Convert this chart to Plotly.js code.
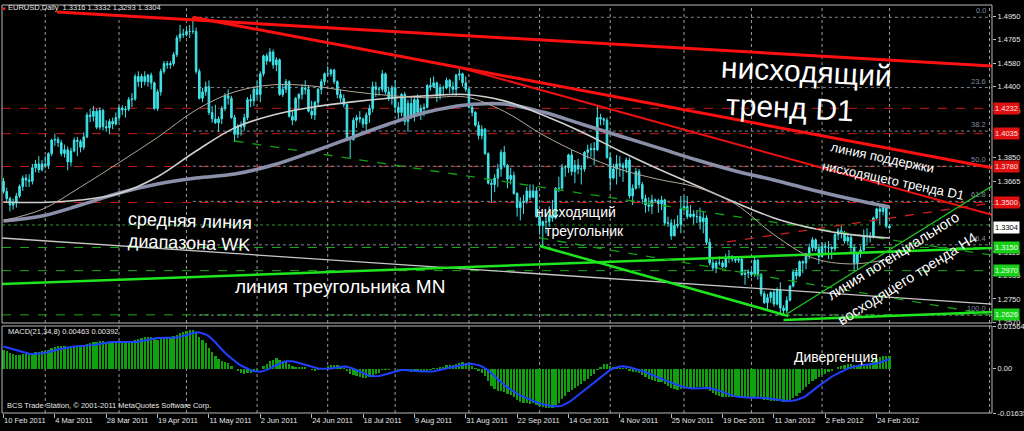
<!DOCTYPE html>
<html><head><meta charset="utf-8">
<script src="https://cdn.plot.ly/plotly-3.0.1.min.js"></script>
<style>html,body{margin:0;padding:0;background:#000;overflow:hidden}#chart{width:1024px;height:431px}</style>
</head><body><div id="chart"></div>
<script>
// ---------- DATA ----------
const tickLabels = ["10 Feb 2011","4 Mar 2011","28 Mar 2011","19 Apr 2011","11 May 2011","2 Jun 2011","24 Jun 2011","18 Jul 2011","9 Aug 2011","31 Aug 2011","22 Sep 2011","14 Oct 2011","4 Nov 2011","25 Nov 2011","19 Dec 2011","11 Jan 2012","2 Feb 2012","24 Feb 2012"];
const barsPerLabel = 16;
const monthStarts = [13,36,57,79,101,122,145,167,189,212,233,255,276];

const open = [1.3665,1.3585,1.3530,1.3480,1.3495,1.3550,1.3625,1.3690,1.3675,1.3665,
1.3770,1.3800,1.3755,1.3800,1.3785,1.3880,1.3985,1.3990,1.3965,1.3880,
1.3910,1.3815,1.3900,1.3985,1.3975,1.3930,1.4010,1.4180,1.4170,1.4210,
1.4085,1.4215,1.4090,1.4080,1.4130,1.4110,1.4160,1.4235,1.4220,1.4225,
1.4300,1.4305,1.4480,1.4440,1.4480,1.4440,1.4490,1.4430,1.4230,1.4360,
1.4520,1.4580,1.4570,1.4580,1.4650,1.4780,1.4810,1.4805,1.4830,1.4830,
1.4830,1.4520,1.4310,1.4360,1.4400,1.4200,1.4150,1.4120,1.4150,1.4230,
1.4330,1.4310,1.4160,1.4030,1.4090,1.4090,1.4160,1.4300,1.4290,1.4380,
1.4340,1.4500,1.4640,1.4600,1.4670,1.4570,1.4610,1.4340,1.4380,1.4440,
1.4170,1.4140,1.4310,1.4340,1.4390,1.4380,1.4210,1.4180,1.4280,1.4380,
1.4440,1.4500,1.4500,1.4530,1.4440,1.4340,1.4310,1.4260,1.3990,1.3990,
1.4140,1.4160,1.4150,1.4110,1.4180,1.4230,1.4400,1.4380,1.4380,1.4500,
1.4360,1.4310,1.4390,1.4240,1.4200,1.4340,1.4130,1.4270,1.4180,1.4300,
1.4200,1.4230,1.4240,1.4410,1.4400,1.4430,1.4330,1.4390,1.4390,1.4450,
1.4400,1.4380,1.4490,1.4500,1.4430,1.4380,1.4240,1.4200,1.4100,1.4020,
1.4070,1.3880,1.3650,1.3640,1.3690,1.3760,1.3890,1.3790,1.3680,1.3710,
1.3570,1.3460,1.3500,1.3510,1.3590,1.3540,1.3590,1.3390,1.3320,1.3350,
1.3350,1.3400,1.3380,1.3610,1.3610,1.3770,1.3770,1.3870,1.3740,1.3790,
1.3760,1.3760,1.3890,1.3910,1.3920,1.3910,1.4160,1.4150,1.4140,1.3850,
1.3690,1.3760,1.3800,1.3790,1.3770,1.3830,1.3550,1.3610,1.3740,1.3640,
1.3530,1.3480,1.3470,1.3520,1.3515,1.3490,1.3520,1.3340,1.3340,1.3240,
1.3320,1.3330,1.3450,1.3470,1.3390,1.3410,1.3390,1.3390,1.3350,1.3380,
1.3190,1.3030,1.2990,1.3030,1.3030,1.3000,1.3070,1.3080,1.3060,1.3050,
1.3060,1.2940,1.2950,1.2960,1.2940,1.3050,1.2940,1.2790,1.2720,1.2760,
1.2800,1.2710,1.2820,1.2680,1.2660,1.2740,1.2850,1.2960,1.2930,1.3040,
1.3030,1.3100,1.3150,1.3210,1.3140,1.3080,1.3160,1.3150,1.3150,1.3140,
1.3250,1.3280,1.3260,1.3200,1.3230,1.3150,1.3030,1.3100,1.3130,1.3240,
1.3240,1.3230,1.3380,1.3450,1.3430,1.3470,1.3316];
const high = [1.3690,1.3615,1.3545,1.3530,1.3575,1.3640,1.3710,1.3720,1.3720,1.3800,
1.3830,1.3860,1.3830,1.3860,1.3890,1.3995,1.4035,1.4010,1.3985,1.3950,
1.3935,1.3925,1.4005,1.4010,1.3990,1.4045,1.4200,1.4230,1.4250,1.4230,
1.4240,1.4230,1.4140,1.4150,1.4160,1.4200,1.4250,1.4255,1.4250,1.4320,
1.4350,1.4500,1.4520,1.4500,1.4520,1.4500,1.4510,1.4440,1.4380,1.4540,
1.4600,1.4600,1.4600,1.4670,1.4800,1.4880,1.4850,1.4860,1.4880,1.4940,
1.4860,1.4540,1.4390,1.4440,1.4450,1.4250,1.4260,1.4170,1.4250,1.4350,
1.4380,1.4330,1.4180,1.4110,1.4130,1.4190,1.4320,1.4340,1.4400,1.4440,
1.4520,1.4650,1.4660,1.4700,1.4690,1.4630,1.4620,1.4420,1.4460,1.4450,
1.4210,1.4320,1.4350,1.4420,1.4450,1.4410,1.4290,1.4290,1.4390,1.4460,
1.4510,1.4560,1.4540,1.4540,1.4450,1.4380,1.4340,1.4270,1.4010,1.4160,
1.4180,1.4210,1.4160,1.4200,1.4260,1.4440,1.4440,1.4400,1.4530,1.4510,
1.4400,1.4410,1.4450,1.4280,1.4350,1.4360,1.4300,1.4320,1.4330,1.4340,
1.4260,1.4270,1.4420,1.4470,1.4480,1.4440,1.4420,1.4410,1.4470,1.4460,
1.4440,1.4500,1.4550,1.4510,1.4480,1.4390,1.4270,1.4210,1.4130,1.4100,
1.4080,1.3890,1.3680,1.3720,1.3800,1.3910,1.3940,1.3800,1.3770,1.3740,
1.3580,1.3540,1.3560,1.3620,1.3640,1.3640,1.3620,1.3440,1.3360,1.3420,
1.3470,1.3520,1.3620,1.3700,1.3800,1.3790,1.3880,1.3910,1.3830,1.3840,
1.3790,1.3900,1.3950,1.3960,1.3970,1.4250,1.4190,1.4160,1.4160,1.3880,
1.3800,1.3870,1.3860,1.3810,1.3850,1.3850,1.3640,1.3770,1.3760,1.3660,
1.3560,1.3540,1.3560,1.3530,1.3530,1.3550,1.3530,1.3390,1.3370,1.3370,
1.3400,1.3550,1.3550,1.3550,1.3480,1.3440,1.3440,1.3460,1.3430,1.3400,
1.3220,1.3060,1.3050,1.3080,1.3050,1.3100,1.3130,1.3090,1.3080,1.3080,
1.3070,1.2980,1.2980,1.2980,1.3080,1.3060,1.2950,1.2810,1.2790,1.2810,
1.2820,1.2840,1.2880,1.2700,1.2770,1.2860,1.2980,1.2990,1.3050,1.3050,
1.3110,1.3180,1.3230,1.3220,1.3170,1.3190,1.3190,1.3200,1.3160,1.3260,
1.3300,1.3320,1.3280,1.3260,1.3250,1.3170,1.3110,1.3160,1.3290,1.3300,
1.3270,1.3390,1.3460,1.3480,1.3490,1.3480,1.3332];
const low = [1.3570,1.3510,1.3430,1.3445,1.3460,1.3535,1.3590,1.3620,1.3620,1.3640,
1.3735,1.3730,1.3740,1.3765,1.3760,1.3860,1.3940,1.3930,1.3860,1.3850,
1.3750,1.3780,1.3890,1.3860,1.3890,1.3910,1.4000,1.4125,1.4130,1.4070,
1.4065,1.4060,1.4050,1.4030,1.4070,1.4100,1.4130,1.4180,1.4160,1.4210,
1.4240,1.4290,1.4400,1.4390,1.4410,1.4400,1.4380,1.4220,1.4210,1.4330,
1.4500,1.4540,1.4540,1.4560,1.4630,1.4750,1.4780,1.4790,1.4780,1.4810,
1.4500,1.4300,1.4280,1.4330,1.4180,1.4120,1.4110,1.4050,1.4110,1.4210,
1.4260,1.4150,1.3970,1.4000,1.4020,1.4060,1.4140,1.4240,1.4250,1.4310,
1.4280,1.4480,1.4570,1.4590,1.4540,1.4520,1.4330,1.4320,1.4350,1.4160,
1.4100,1.4130,1.4220,1.4300,1.4340,1.4200,1.4150,1.4140,1.4250,1.4340,
1.4410,1.4480,1.4480,1.4420,1.4310,1.4280,1.4240,1.3990,1.3840,1.3980,
1.4080,1.4120,1.4080,1.4060,1.4120,1.4200,1.4320,1.4330,1.4360,1.4340,
1.4290,1.4260,1.4200,1.4150,1.4170,1.4100,1.4050,1.4150,1.4130,1.4170,
1.4140,1.4170,1.4230,1.4370,1.4390,1.4280,1.4300,1.4330,1.4380,1.4350,
1.4340,1.4330,1.4450,1.4400,1.4360,1.4230,1.4170,1.4090,1.3990,1.3990,
1.3870,1.3640,1.3500,1.3580,1.3620,1.3700,1.3770,1.3610,1.3640,1.3560,
1.3390,1.3360,1.3410,1.3490,1.3520,1.3540,1.3380,1.3250,1.3150,1.3260,
1.3310,1.3350,1.3370,1.3580,1.3600,1.3700,1.3730,1.3710,1.3650,1.3720,
1.3640,1.3740,1.3840,1.3850,1.3790,1.3900,1.4100,1.4100,1.3840,1.3610,
1.3680,1.3640,1.3700,1.3660,1.3730,1.3530,1.3480,1.3600,1.3610,1.3490,
1.3420,1.3430,1.3410,1.3500,1.3420,1.3440,1.3320,1.3310,1.3210,1.3240,
1.3300,1.3260,1.3430,1.3370,1.3380,1.3330,1.3340,1.3290,1.3260,1.3170,
1.3010,1.2970,1.2950,1.3010,1.2990,1.2990,1.3030,1.3040,1.3030,1.3030,
1.2930,1.2860,1.2910,1.2920,1.2920,1.2900,1.2770,1.2710,1.2670,1.2720,
1.2690,1.2700,1.2630,1.2620,1.2640,1.2730,1.2840,1.2900,1.2920,1.2950,
1.2980,1.3060,1.3120,1.3120,1.3020,1.3070,1.3100,1.3060,1.3060,1.3120,
1.3210,1.3220,1.3180,1.3180,1.3100,1.2970,1.2980,1.3070,1.3120,1.3180,
1.3190,1.3220,1.3370,1.3330,1.3400,1.3300,1.3293];
const close = [1.3585,1.3530,1.3480,1.3495,1.3550,1.3625,1.3690,1.3675,1.3665,1.3770,
1.3800,1.3755,1.3800,1.3785,1.3880,1.3985,1.3990,1.3965,1.3880,1.3910,
1.3815,1.3900,1.3985,1.3975,1.3930,1.4010,1.4180,1.4170,1.4210,1.4085,
1.4215,1.4090,1.4080,1.4130,1.4110,1.4160,1.4235,1.4220,1.4225,1.4300,
1.4305,1.4480,1.4440,1.4480,1.4440,1.4490,1.4430,1.4230,1.4360,1.4520,
1.4580,1.4570,1.4580,1.4650,1.4780,1.4810,1.4805,1.4830,1.4830,1.4830,
1.4520,1.4310,1.4360,1.4400,1.4200,1.4150,1.4120,1.4150,1.4230,1.4330,
1.4310,1.4160,1.4030,1.4090,1.4090,1.4160,1.4300,1.4290,1.4380,1.4340,
1.4500,1.4640,1.4600,1.4670,1.4570,1.4610,1.4340,1.4380,1.4440,1.4170,
1.4140,1.4310,1.4340,1.4390,1.4380,1.4210,1.4180,1.4280,1.4380,1.4440,
1.4500,1.4500,1.4530,1.4440,1.4340,1.4310,1.4260,1.3990,1.3990,1.4140,
1.4160,1.4150,1.4110,1.4180,1.4230,1.4400,1.4380,1.4380,1.4500,1.4360,
1.4310,1.4390,1.4240,1.4200,1.4340,1.4130,1.4270,1.4180,1.4300,1.4200,
1.4230,1.4240,1.4410,1.4400,1.4430,1.4330,1.4390,1.4390,1.4450,1.4400,
1.4380,1.4490,1.4500,1.4430,1.4380,1.4240,1.4200,1.4100,1.4020,1.4070,
1.3880,1.3650,1.3640,1.3690,1.3760,1.3890,1.3790,1.3680,1.3710,1.3570,
1.3460,1.3500,1.3510,1.3590,1.3540,1.3590,1.3390,1.3320,1.3350,1.3350,
1.3400,1.3380,1.3610,1.3610,1.3770,1.3770,1.3870,1.3740,1.3790,1.3760,
1.3760,1.3890,1.3910,1.3920,1.3910,1.4160,1.4150,1.4140,1.3850,1.3690,
1.3760,1.3800,1.3790,1.3770,1.3830,1.3550,1.3610,1.3740,1.3640,1.3530,
1.3480,1.3470,1.3520,1.3515,1.3490,1.3520,1.3340,1.3340,1.3240,1.3320,
1.3330,1.3450,1.3470,1.3390,1.3410,1.3390,1.3390,1.3350,1.3380,1.3190,
1.3030,1.2990,1.3030,1.3030,1.3000,1.3070,1.3080,1.3060,1.3050,1.3060,
1.2940,1.2950,1.2960,1.2940,1.3050,1.2940,1.2790,1.2720,1.2760,1.2800,
1.2710,1.2820,1.2680,1.2660,1.2740,1.2850,1.2960,1.2930,1.3040,1.3030,
1.3100,1.3150,1.3210,1.3140,1.3080,1.3160,1.3150,1.3150,1.3140,1.3250,
1.3280,1.3260,1.3200,1.3230,1.3150,1.3030,1.3100,1.3130,1.3240,1.3240,
1.3230,1.3380,1.3450,1.3430,1.3470,1.3316,1.3304];

// moving averages, one value every 12 bars
const maIdx  = [0,12,24,36,48,60,72,84,96,108,120,132,144,156,168,180,192,204,216,228,240,252,264,276];
const maFast = [1.3360,1.3446,1.3620,1.3810,1.4006,1.4220,1.4360,1.4415,1.4406,1.4364,1.4332,1.4314,1.4320,1.4208,1.4026,1.3876,1.3758,1.3680,1.3618,1.3488,1.3250,1.3070,1.3022,1.3060];
const maMid  = [1.3504,1.3500,1.3519,1.3570,1.3700,1.3900,1.4080,1.4180,1.4240,1.4280,1.4310,1.4330,1.4340,1.4290,1.4180,1.4050,1.3900,1.3760,1.3630,1.3500,1.3380,1.3300,1.3250,1.3224];
const maSlow = [1.3356,1.3395,1.3480,1.3574,1.3644,1.3690,1.3721,1.3791,1.3892,1.4001,1.4110,1.4203,1.4258,1.4266,1.4203,1.4110,1.4017,1.3924,1.3830,1.3745,1.3675,1.3597,1.3527,1.3465];

// MACD(21,34,8) warm-up state before the first bar
const macdSeed = [1.3550, 1.3478];
const macdWarmup = [0.0090,0.0088,0.0086,0.0083,0.0080,0.0077,0.0074];

// axis labels (1.4035 is shown by its red level box)
const priceTicks = ["1.4950","1.4765","1.4580","1.4400","1.4215","1.3850","1.3665","1.3485","1.3115","1.2935","1.2750","1.2570"];
const macdTicks = ["0.01564","0.00","-0.01635"];
const redLevels = [1.4232,1.4035,1.3780,1.3500];
const greenLevels = [1.3150,1.2970,1.2626];
const greenDotLevel = 1.3325;
const fibLevels = [0,23.6,38.2,50,61.8,76.4,100];
const fibHigh = 1.4940, fibLow = 1.2624, fibStart = 59;

// trend lines: [bar, price] anchor pairs
const redTop      = [[16.7,1.4981],[307.9,1.4561]];
const redD1       = [[59,1.4940],[142,1.4550]];
const redSupport  = [[142,1.4550],[185,1.4253]];
const redDashUp   = [[225.4,1.3193],[307.9,1.3496]];
const greenMN     = [[-0.5,1.2866],[307.9,1.3146]];
const greenTriLow = [[167,1.3162],[244.5,1.2617]];
const greenBottom = [[243,1.2586],[307.9,1.2648]];
const greenH4     = [[244,1.2633],[307.9,1.3628]];
const greenDashHi = [[72,1.3978],[307.9,1.3091]];
const greenDashLo = [[167,1.3224],[307.9,1.2625]];
const greyWK      = [[-0.5,1.3224],[307.9,1.2710]];

// ---------- BUILD ----------
const XMIN = -0.467, XMAX = 307.94;
const bars = close.map((_, i) => i);
function ray(a, b, xEnd) {
  const s = (b[1]-a[1])/(b[0]-a[0]);
  return {x:[a[0], xEnd], y:[a[1], a[1] + s*(xEnd-a[0])]};
}
function seg(a, b) { return {x:[a[0], b[0]], y:[a[1], b[1]]}; }

// MACD
const k21 = 2/22, k34 = 2/35;
let e21 = macdSeed[0], e34 = macdSeed[1];
const macdMain = close.map(c => { e21 += k21*(c-e21); e34 += k34*(c-e34); return e21 - e34; });
const hist = macdWarmup.concat(macdMain);
const signal = macdMain.map((_, i) => { let s = 0; for (let j = i; j < i+8; j++) s += hist[j]; return s/8; });

const traces = [];
function line(d, color, width, dash) {
  traces.push({type:'scatter', mode:'lines', x:d.x, y:d.y, xaxis:'x', yaxis:'y',
    line:{color:color, width:width, dash:dash||'solid'}, hoverinfo:'skip'});
}
line(seg(...greyWK), '#c8c8c8', 1.3);
line(seg(...greenMN), '#1ee61e', 2.5);
line(seg(...greenDashHi), '#14a014', 1.3, 'dash');
line(seg(...greenDashLo), '#14a014', 1.3, 'dash');

traces.push({type:'scatter', mode:'lines', x:maIdx, y:maSlow, xaxis:'x', yaxis:'y',
  line:{color:'#8a90aa', width:3.5, shape:'spline'}, hoverinfo:'skip'});
traces.push({type:'scatter', mode:'lines', x:maIdx, y:maMid, xaxis:'x', yaxis:'y',
  line:{color:'#d0d0d0', width:1.6, shape:'spline'}, hoverinfo:'skip'});
traces.push({type:'scatter', mode:'lines', x:maIdx, y:maFast, xaxis:'x', yaxis:'y',
  line:{color:'#b4a898', width:1, shape:'spline'}, hoverinfo:'skip'});

traces.push({type:'candlestick', x:bars, open:open, high:high, low:low, close:close,
  xaxis:'x', yaxis:'y', whiskerwidth:0,
  increasing:{line:{color:'#3fe3e8', width:1}, fillcolor:'#3fe3e8'},
  decreasing:{line:{color:'#3fe3e8', width:1}, fillcolor:'#3fe3e8'},
  hoverinfo:'skip'});

line(seg(...redTop), '#ff1010', 3);
line(ray(redD1[0], redD1[1], XMAX), '#ff1010', 3);
line(ray(redSupport[0], redSupport[1], XMAX), '#ee1010', 2);
line(seg(...redDashUp), '#d02020', 1.3, 'dash');
line(seg(...greenTriLow), '#1ee61e', 2.5);
line(seg(...greenBottom), '#1ee61e', 2.5);
line(seg(...greenH4), '#20c020', 1.3);

traces.push({type:'bar', x:bars, y:macdMain, xaxis:'x', yaxis:'y2',
  marker:{color:'#10a010', line:{width:0}}, width:0.72, hoverinfo:'skip'});
traces.push({type:'scatter', mode:'lines', x:bars, y:signal, xaxis:'x', yaxis:'y2',
  line:{color:'#2040ff', width:2}, hoverinfo:'skip'});

// ---------- LAYOUT ----------
const PL = 2, PR = 992, PT = 5, PB = 413;
const px = v => (v - PL)/(PR - PL);
const py = v => (PB - v)/(PB - PT);
const P1 = [py(323), 1], P2 = [0, py(326)];

const shapes = [];
monthStarts.forEach(m => shapes.push({type:'line', xref:'x', yref:'paper', x0:m, x1:m, y0:0, y1:1,
  line:{color:'#9a9a9a', width:1, dash:'dot'}, layer:'below'}));
shapes.push({type:'line', xref:'paper', yref:'paper', x0:px(989.5), x1:px(989.5), y0:0, y1:1,
  line:{color:'#9a9a9a', width:1, dash:'dot'}, layer:'below'});
fibLevels.forEach(f => {
  const v = fibHigh - (fibHigh-fibLow)*f/100;
  shapes.push({type:'line', xref:'x', yref:'y', x0:fibStart, x1:XMAX, y0:v, y1:v,
    line:{color:'#808890', width:1, dash:'dot'}, layer:'below'});
});
redLevels.forEach(v => shapes.push({type:'line', xref:'paper', yref:'y', x0:0, x1:1, y0:v, y1:v,
  line:{color:'#c81818', width:1, dash:'dash'}, layer:'below'}));
greenLevels.forEach(v => shapes.push({type:'line', xref:'paper', yref:'y', x0:0, x1:1, y0:v, y1:v,
  line:{color:'#18a818', width:1, dash:'dash'}, layer:'below'}));
shapes.push({type:'line', xref:'paper', yref:'y', x0:0, x1:1, y0:greenDotLevel, y1:greenDotLevel,
  line:{color:'#2a9a2a', width:1, dash:'dot'}, layer:'below'});
shapes.push({type:'rect', xref:'paper', yref:'paper', x0:0, x1:1, y0:P1[0], y1:P1[1],
  line:{color:'#b8b8b8', width:1}, fillcolor:'rgba(0,0,0,0)'});
shapes.push({type:'rect', xref:'paper', yref:'paper', x0:0, x1:1, y0:P2[0], y1:P2[1],
  line:{color:'#b8b8b8', width:1}, fillcolor:'rgba(0,0,0,0)'});

const F = 'Liberation Sans, Arial, sans-serif';
const ann = [];
function txt(t, x, y, size, angle, color) {
  ann.push({text:t, xref:'paper', yref:'paper', x:px(x), y:py(y), xanchor:'center', yanchor:'middle',
    showarrow:false, textangle:angle||0, font:{family:F, size:size, color:color||'#ffffff'}});
}
txt('нисходящий', 806, 72, 30, 3);
txt('тренд D1', 790, 107, 30, 3);
txt('линия поддержки', 882, 157, 13, 12);
txt('нисходящего тренда D1', 893, 180, 13, 12);
txt('средняя линия', 190, 221, 18, 2);
txt('диапазона WK', 189, 243, 18, 2);
txt('линия треугольника MN', 340, 286, 19, 0);
txt('нисходящий', 576, 212, 14, 0);
txt('треугольник', 584, 231, 14, 0);
txt('линия потенциального', 893, 256, 14.5, -32);
txt('восходящего тренда H4', 907, 279, 14.5, -32);
txt('Дивергенция', 836, 357, 14, 0);

const n = close.length - 1;
function small(t, x, y, anchor) {
  ann.push({text:t, xref:'paper', yref:'paper', x:px(x), y:py(y), xanchor:anchor||'left', yanchor:'middle',
    showarrow:false, font:{family:F, size:7.5, color:'#e6e6e6'}});
}
small('EURUSD,Daily  ' + [open[n],high[n],low[n],close[n]].map(v=>v.toFixed(4)).join(' '), 6, 8);
ann.push({text:'■', xref:'paper', yref:'paper', x:px(3), y:py(8), xanchor:'center', yanchor:'middle',
  showarrow:false, font:{family:F, size:5, color:'#ff2020'}});
small('MACD(21,34,8) 0.00463 0.00392', 6, 331);
small('BCS Trade Station, © 2001-2011 MetaQuotes Software Corp.', 5, 405);

fibLevels.forEach(f => {
  const v = fibHigh - (fibHigh-fibLow)*f/100;
  ann.push({text:f.toFixed(1), xref:'paper', yref:'y', x:px(988), y:v, xanchor:'right', yanchor:'bottom',
    showarrow:false, font:{family:F, size:7.5, color:'#7f8ca0'}});
});
function box(v, bg, fg) {
  ann.push({text:v.toFixed(4), xref:'paper', yref:'y', x:1, y:v, xanchor:'left', yanchor:'middle', xshift:1,
    showarrow:false, bgcolor:bg, borderpad:1, font:{family:F, size:7.5, color:fg}});
}
redLevels.forEach(v => box(v, '#e01010', '#ffe0e0'));
greenLevels.forEach(v => box(v, '#18d018', '#f0fff0'));
box(close[n], '#ffffff', '#000000');

const axisFont = {family:F, size:7.5, color:'#e6e6e6'};
const layout = {
  width:1024, height:431, paper_bgcolor:'#000000', plot_bgcolor:'#000000',
  margin:{l:PL, r:1024-PR, t:PT, b:431-PB}, showlegend:false, bargap:0,
  xaxis:{range:[XMIN, XMAX], anchor:'y2', tickvals:tickLabels.map((_, i) => i*barsPerLabel), ticktext:tickLabels,
    ticks:'outside', ticklen:4, tickcolor:'#b8b8b8', tickfont:axisFont, ticklabelposition:'outside right',
    showgrid:false, zeroline:false, showline:false, rangeslider:{visible:false}, fixedrange:true},
  yaxis:{domain:P1, range:[1.25628, 1.50355], side:'right', anchor:'x',
    tickvals:priceTicks.map(Number), ticktext:priceTicks, ticks:'outside', ticklen:3, tickcolor:'#b8b8b8',
    tickfont:axisFont, showgrid:false, zeroline:false, showline:false, fixedrange:true},
  yaxis2:{domain:P2, range:[-0.01635, 0.01564], side:'right', anchor:'x',
    tickvals:macdTicks.map(Number), ticktext:macdTicks, ticks:'outside', ticklen:3, tickcolor:'#b8b8b8',
    tickfont:axisFont, showgrid:false, zeroline:false, showline:false, fixedrange:true},
  shapes:shapes, annotations:ann
};
Plotly.newPlot('chart', traces, layout, {displayModeBar:false, staticPlot:true});
</script></body></html>
